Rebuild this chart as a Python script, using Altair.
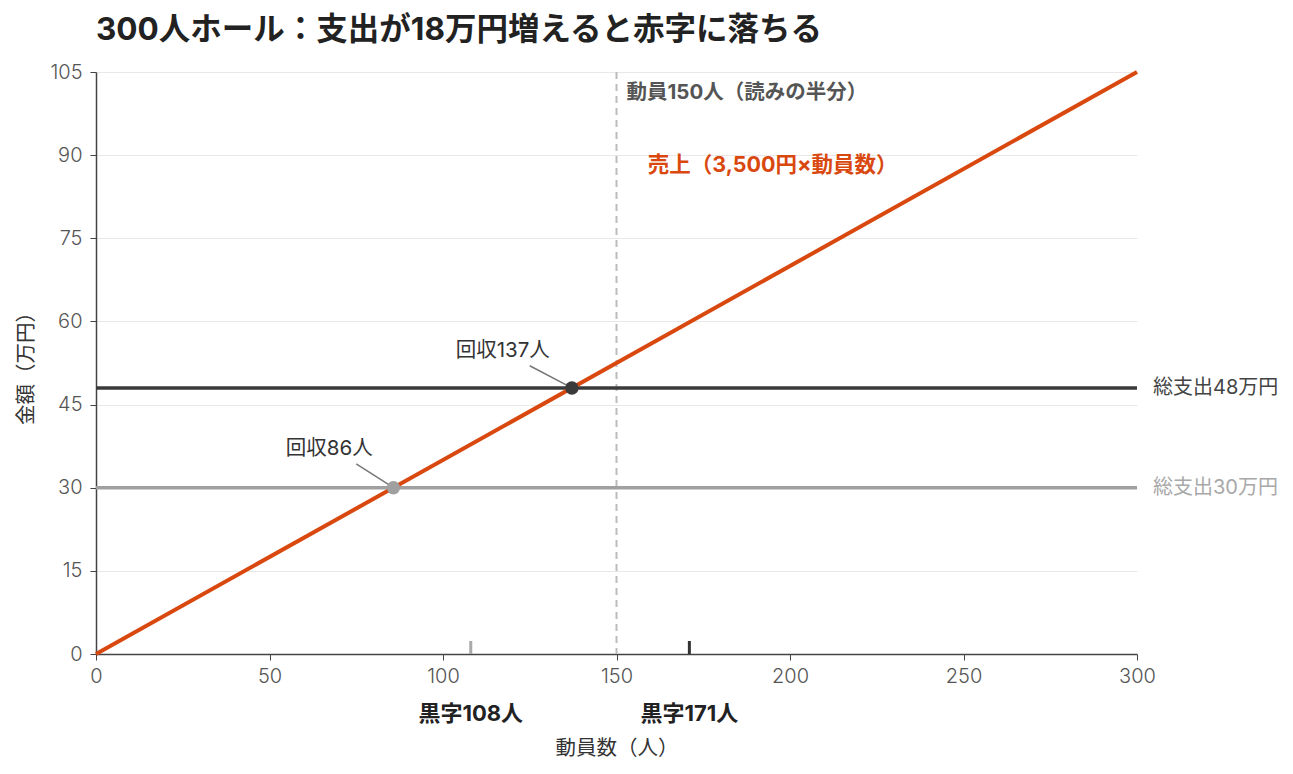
import altair as alt
import pandas as pd

FONT = "Inter, Noto Sans CJK JP"
W, H = 1041, 582

# 売上線（3,500円×動員数, 万円）
seats = [0, 300]
revenue = [0, 105]
price_man = 0.35

# 総支出
cost_levels = [48, 30]
cost_labels = ["総支出48万円", "総支出30万円"]
cost_colors = ["#3a3a3a", "#a0a0a0"]
cost_text_colors = ["#444444", "#a8a8a8"]

# 回収点の注記
recover_labels = ["回収137人", "回収86人"]
note_x = [125, 75]
note_y = [52, 34.3]

# 黒字ライン
profit_n = [171, 108]
profit_labels = ["黒字171人", "黒字108人"]
profit_colors = ["#333333", "#aaaaaa"]

plan_n = 150
plan_label = "動員150人（読みの半分）"
rev_label = "売上（3,500円×動員数）"
rev_label_pos = (159, 88)

rev_df = pd.DataFrame({"n": seats, "v": revenue})
cost_df = pd.DataFrame({
    "v": cost_levels,
    "label": cost_labels,
    "color": cost_colors,
    "tcolor": cost_text_colors,
    "be": [c / price_man for c in cost_levels],
    "note": recover_labels,
    "nx": note_x,
    "ny": note_y,
})
profit_df = pd.DataFrame({"n": profit_n, "label": profit_labels, "color": profit_colors})

xs = alt.Scale(domain=[0, 300], nice=False)
ys = alt.Scale(domain=[0, 105], nice=False)

x_axis = alt.Axis(values=[0, 50, 100, 150, 200, 250, 300], grid=False, title="動員数（人）",
                  titlePadding=52, labelPadding=6)
y_axis = alt.Axis(values=[0, 15, 30, 45, 60, 75, 90, 105], grid=True, title="金額（万円）",
                  titlePadding=13, labelPadding=8)

grid_base = alt.Chart(rev_df).mark_line(opacity=0).encode(
    x=alt.X("n:Q", scale=xs, axis=x_axis),
    y=alt.Y("v:Q", scale=ys, axis=y_axis),
)

plan_rule = alt.Chart(pd.DataFrame({"n": [plan_n]})).mark_rule(
    color="#bbbbbb", strokeWidth=2, strokeDash=[7, 5]
).encode(x=alt.X("n:Q", scale=xs), y=alt.value(0), y2=alt.value(H))

plan_text = alt.Chart(pd.DataFrame({"n": [plan_n], "t": [plan_label]})).mark_text(
    align="left", baseline="middle", dx=10, fontSize=20.5, fontWeight="bold",
    color="#555555", font=FONT
).encode(x=alt.X("n:Q", scale=xs), y=alt.value(21), text="t:N")

cost_rules = alt.Chart(cost_df).mark_rule(strokeWidth=3.5).encode(
    x=alt.value(0), x2=alt.value(W),
    y=alt.Y("v:Q", scale=ys),
    color=alt.Color("color:N", scale=None),
)

cost_text = alt.Chart(cost_df).mark_text(
    align="left", baseline="middle", fontSize=20, font=FONT
).encode(
    x=alt.value(W + 16),
    y=alt.Y("v:Q", scale=ys),
    text="label:N",
    color=alt.Color("tcolor:N", scale=None),
)

rev_line = alt.Chart(rev_df).mark_line(color="#d9480f", strokeWidth=4).encode(
    x=alt.X("n:Q", scale=xs), y=alt.Y("v:Q", scale=ys)
)

rev_text = alt.Chart(pd.DataFrame({"n": [rev_label_pos[0]], "v": [rev_label_pos[1]], "t": [rev_label]})).mark_text(
    align="left", baseline="middle", fontSize=21.5, fontWeight="bold", color="#d9480f", font=FONT
).encode(x=alt.X("n:Q", scale=xs), y=alt.Y("v:Q", scale=ys), text="t:N")

leaders = alt.Chart(cost_df).mark_rule(color="#777777", strokeWidth=1.5).encode(
    x=alt.X("nx:Q", scale=xs), y=alt.Y("ny:Q", scale=ys),
    x2="be:Q", y2="v:Q",
)

points = alt.Chart(cost_df).mark_circle(size=180, opacity=1).encode(
    x=alt.X("be:Q", scale=xs), y=alt.Y("v:Q", scale=ys),
    color=alt.Color("color:N", scale=None),
)

notes = alt.Chart(cost_df).mark_text(
    align="center", baseline="middle", dx=-27, dy=-15, fontSize=20.5, color="#333333", font=FONT
).encode(x=alt.X("nx:Q", scale=xs), y=alt.Y("ny:Q", scale=ys), text="note:N")

profit_ticks = alt.Chart(profit_df).mark_rule(strokeWidth=3).encode(
    x=alt.X("n:Q", scale=xs), y=alt.value(H - 13), y2=alt.value(H),
    color=alt.Color("color:N", scale=None),
)

profit_text = alt.Chart(profit_df).mark_text(
    align="center", baseline="middle", fontSize=22, fontWeight="bold", color="#222222", font=FONT
).encode(x=alt.X("n:Q", scale=xs), y=alt.value(H + 60), text="label:N")

chart = alt.layer(
    grid_base, plan_rule, cost_rules, rev_line, leaders, points,
    plan_text, rev_text, cost_text, notes, profit_ticks, profit_text,
).properties(
    width=W, height=H,
    autosize=alt.AutoSizeParams(type="none"),
    padding={"left": 88, "top": 64, "right": 146, "bottom": 110},
    title=alt.TitleParams(
        "300人ホール：支出が18万円増えると赤字に落ちる",
        anchor="start", frame="group", fontSize=31.5, fontWeight="bold", color="#222222",
        font=FONT, offset=16,
    ),
).configure_view(stroke=None).configure_axis(
    labelFont=FONT, titleFont=FONT, labelFontSize=20, titleFontSize=20.5,
    labelFontWeight=300, labelFlush=False,
    labelColor="#555555", titleColor="#333333", titleFontWeight="normal",
    domainColor="#444444", domainWidth=1.5, tickColor="#444444", tickSize=6,
    gridColor="#e8e8e8",
)

chart.save("out.html", embed_options={"renderer": "svg", "actions": False})
